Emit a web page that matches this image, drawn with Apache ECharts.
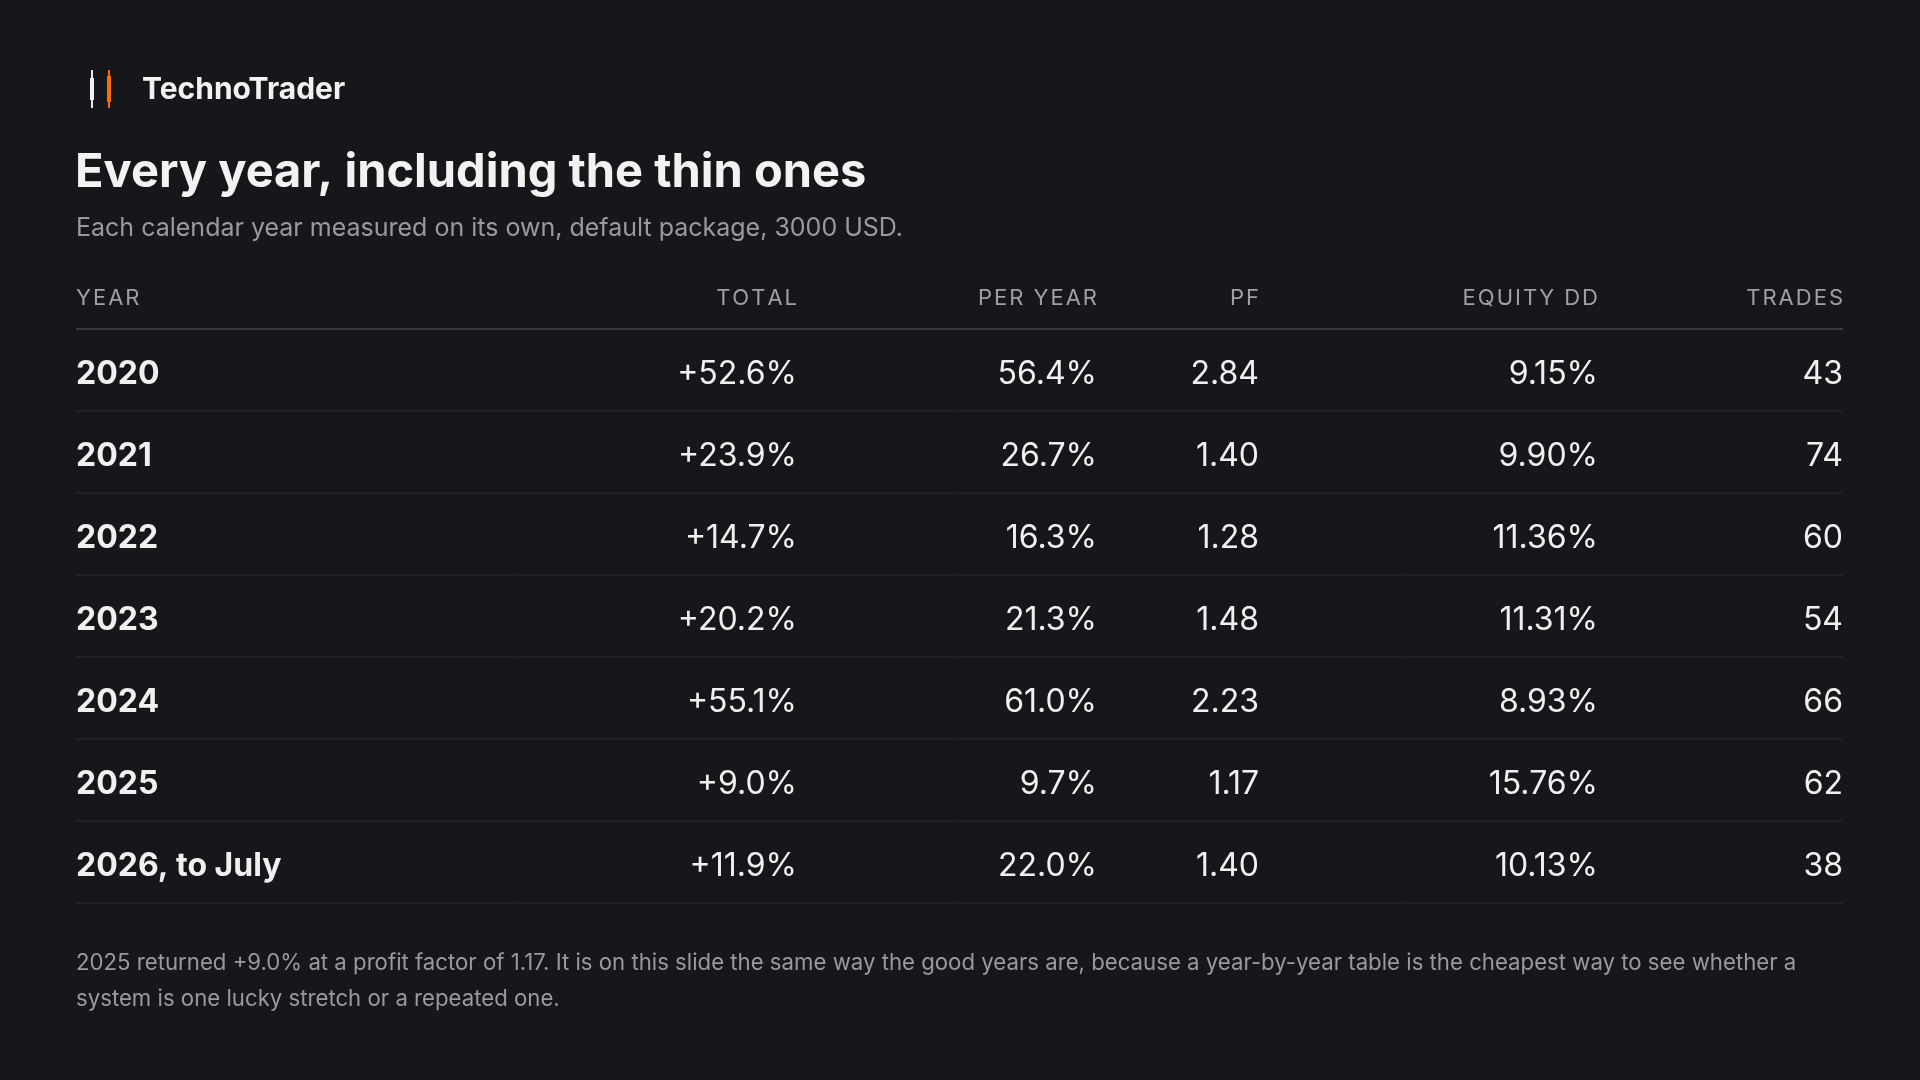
<!DOCTYPE html>
<html>
<head>
<meta charset="utf-8">
<script src="https://cdn.jsdelivr.net/npm/echarts@6/dist/echarts.min.js"></script>
<style>
html,body{margin:0;padding:0;background:#16171b;}
#chart{width:1920px;height:1080px;}
</style>
</head>
<body>
<div id="chart"></div>
<script>
var headers = ['YEAR', 'TOTAL', 'PER YEAR', 'PF', 'EQUITY DD', 'TRADES'];
var years = ['2020', '2021', '2022', '2023', '2024', '2025', '2026, to July'];
var totals = ['+52.6%', '+23.9%', '+14.7%', '+20.2%', '+55.1%', '+9.0%', '+11.9%'];
var perYear = ['56.4%', '26.7%', '16.3%', '21.3%', '61.0%', '9.7%', '22.0%'];
var pf = ['2.84', '1.40', '1.28', '1.48', '2.23', '1.17', '1.40'];
var equityDD = ['9.15%', '9.90%', '11.36%', '11.31%', '8.93%', '15.76%', '10.13%'];
var trades = ['43', '74', '60', '54', '66', '62', '38'];

var font = 'Inter, "Noto Sans", sans-serif';
var left = 76, right = 1843;
var colRight = [null, 797, 1097, 1259, 1598, 1843];
var rowTop = 329, rowH = 82;

var myChart = echarts.init(document.getElementById('chart'));
var g = [];

// logo
g.push({type:'rect', shape:{x:91, y:70, width:2, height:38}, style:{fill:'#e8e8e8'}});
g.push({type:'rect', shape:{x:90, y:78, width:4, height:22}, style:{fill:'#f0f0f0'}});
g.push({type:'rect', shape:{x:108, y:70, width:2, height:38}, style:{fill:'#ff6a00'}});
g.push({type:'rect', shape:{x:107, y:76, width:4, height:26}, style:{fill:'#ff6a00'}});
g.push({type:'text', x:142, y:90, style:{text:'TechnoTrader', fill:'#f2f2f2', font:'bold 30px ' + font, textVerticalAlign:'middle'}});

g.push({type:'text', x:left-1, y:173, style:{text:'Every year, including the thin ones', fill:'#f2f2f2', font:'bold 47px ' + font, textVerticalAlign:'middle'}});
g.push({type:'text', x:left, y:228, style:{text:'Each calendar year measured on its own, default package, 3000 USD.', fill:'#9a9a9e', font:'25px ' + font, textVerticalAlign:'middle'}});

var cols = [years, totals, perYear, pf, equityDD, trades];
headers.forEach(function(h, i){
    g.push({type:'text', x: i==0 ? left : colRight[i], y:298,
        style:{text:h.split('').join('\u200a'), fill:'#a0a0a4', font:'22px ' + font, textAlign: i==0 ? 'left' : 'right', textVerticalAlign:'middle'}});
});
g.push({type:'line', shape:{x1:left, y1:rowTop, x2:right, y2:rowTop}, style:{stroke:'#3a3b40', lineWidth:2}});

for(var r=0; r<years.length; r++){
    var cy = rowTop + rowH*r + rowH/2 + 4;
    for(var c=0; c<cols.length; c++){
        g.push({type:'text', x: c==0 ? left : colRight[c], y:cy,
            style:{text:cols[c][r], fill:'#f0f0f0', font:(c==0 ? 'bold ' : '') + '32px ' + font,
                textAlign: c==0 ? 'left' : 'right', textVerticalAlign:'middle'}});
    }
    var ly = rowTop + rowH*(r+1);
    g.push({type:'line', shape:{x1:left, y1:ly, x2:right, y2:ly}, style:{stroke:'#2a2b30', lineWidth:1}});
}

g.push({type:'text', x:left, y:945, style:{
    text:'2025 returned +9.0% at a profit factor of 1.17. It is on this slide the same way the good years are, because a year-by-year table is the cheapest way to see whether a\nsystem is one lucky stretch or a repeated one.',
    fill:'#9a9a9e', font:'22.2px ' + font, lineHeight:36}});

myChart.setOption({backgroundColor:'#16171b', graphic:g});
window.addEventListener('resize', function(){myChart.resize();});
</script>
</body>
</html>
